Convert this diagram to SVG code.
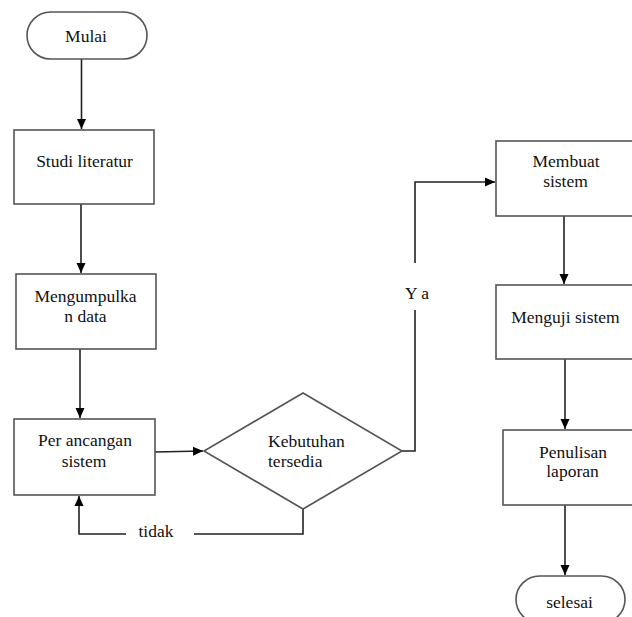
<svg xmlns="http://www.w3.org/2000/svg" width="632" height="617" viewBox="0 0 632 617" font-family="'Liberation Serif', 'DejaVu Serif', serif">
<style>
.shape{fill:#fff;stroke:#555;stroke-width:1.6}
.line{fill:none;stroke:#222;stroke-width:1.6}
text{font-size:17.5px;fill:#111}
.c{text-anchor:middle}
</style>
<defs>
<marker id="arr" markerUnits="userSpaceOnUse" markerWidth="10" markerHeight="10" viewBox="0 0 10 10" refX="10" refY="5" orient="auto">
<path d="M0,0.5 L10,5 L0,9.5 z" fill="#000"/>
</marker>
</defs>
<rect width="632" height="617" fill="#fff"/>
<g id="connectors">
<path class="line" d="M81.5,59 V129" marker-end="url(#arr)"/>
<path class="line" d="M81,204 V273" marker-end="url(#arr)"/>
<path class="line" d="M80,349 V418" marker-end="url(#arr)"/>
<path class="line" d="M155,452 L203,451" marker-end="url(#arr)"/>
<path class="line" d="M303,509 V534 H194"/>
<path class="line" d="M126,534 H79 V496" marker-end="url(#arr)"/>
<path class="line" d="M402,451 H415 V310"/>
<path class="line" d="M415,263 V182 H495" marker-end="url(#arr)"/>
<path class="line" d="M564,216 V284" marker-end="url(#arr)"/>
<path class="line" d="M565,359 V429" marker-end="url(#arr)"/>
<path class="line" d="M565,505 V575" marker-end="url(#arr)"/>
<text x="156" y="537" class="c">tidak</text>
<text x="417" y="299" class="c">Y a</text>
</g>
<g id="mulai">
<rect class="shape" x="27" y="12" width="120" height="47" rx="23.5"/>
<text x="86" y="42" class="c">Mulai</text>
</g>
<g id="studi">
<rect class="shape" x="14" y="130" width="140" height="74"/>
<text x="84.5" y="167" class="c">Studi literatur</text>
</g>
<g id="mengumpulkan">
<rect class="shape" x="16" y="274" width="140" height="75"/>
<text x="85.5" y="302" class="c">Mengumpulka</text>
<text x="85.5" y="322" class="c">n data</text>
</g>
<g id="perancangan">
<rect class="shape" x="14" y="419" width="141" height="76"/>
<text x="85" y="446" class="c">Per ancangan</text>
<text x="84" y="467" class="c">sistem</text>
</g>
<g id="kebutuhan">
<polygon class="shape" points="303,393 402,451 303,509 204,451"/>
<text x="268" y="447">Kebutuhan</text>
<text x="268" y="467">tersedia</text>
</g>
<g id="membuat">
<rect class="shape" x="496" y="141" width="150" height="75"/>
<text x="566" y="167" class="c">Membuat</text>
<text x="565.5" y="187" class="c">sistem</text>
</g>
<g id="menguji">
<rect class="shape" x="496" y="285" width="150" height="74"/>
<text x="565.5" y="323" class="c">Menguji sistem</text>
</g>
<g id="penulisan">
<rect class="shape" x="503" y="430" width="150" height="75"/>
<text x="573" y="458" class="c">Penulisan</text>
<text x="572.5" y="477" class="c">laporan</text>
</g>
<g id="selesai">
<rect class="shape" x="516" y="576" width="109" height="47" rx="23.5"/>
<text x="569.5" y="608" class="c">selesai</text>
</g>
</svg>
